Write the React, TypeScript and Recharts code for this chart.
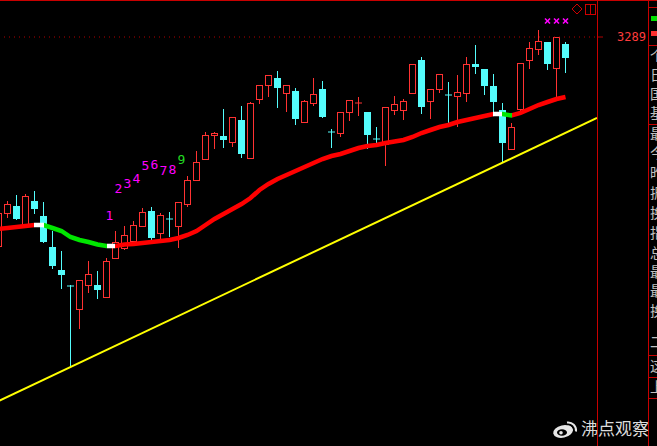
import React from "react";
import { Bar, ComposedChart, Line, ReferenceLine, XAxis, YAxis } from "recharts";

// daily bars, oldest first
const opens = [
  3079, 3112, 3120, 3099, 3125, 3110, 3079, 3056, 3040.5, 3016, 3040, 3041, 3028, 3067, 3077, 3084,
  3099, 3115, 3092, 3107.5, 3099, 3121, 3145, 3166, 3190, 3190, 3183, 3206, 3167, 3226, 3240, 3248,
  3232, 3235, 3203, 3222, 3237, 3194.5, 3192, 3213, 3223, 3214, 3187.5, 3181, 3215, 3215, 3232, 3266,
  3224, 3236, 3231.5, 3229, 3232, 3262, 3257, 3240, 3216, 3176, 3216, 3265, 3276, 3284, 3257, 3282,
];
const highs = [
  3116, 3125, 3131, 3132, 3135, 3124, 3095, 3075, 3041, 3046, 3065, 3055, 3068, 3095, 3100, 3105,
  3118, 3119, 3113, 3114, 3124, 3150, 3175, 3194, 3194, 3217, 3209, 3220, 3224, 3241, 3251, 3255,
  3241, 3238, 3226, 3248, 3245, 3197, 3214, 3226, 3229, 3214, 3199, 3219, 3230, 3227, 3262, 3269,
  3237, 3252, 3244, 3251, 3269, 3281, 3257, 3252, 3223, 3203, 3263, 3284, 3296, 3284, 3289, 3284,
];
const lows = [
  3076, 3108, 3106, 3099, 3112, 3083, 3057, 3037, 2959, 2997, 3033, 3027, 3028, 3067, 3076, 3084,
  3099, 3086, 3084, 3089, 3078, 3119, 3145, 3166, 3177, 3178, 3179, 3168, 3167, 3222, 3229, 3218,
  3214, 3201, 3203, 3220, 3208, 3178, 3189, 3205, 3210, 3177, 3179, 3160, 3211, 3206, 3232, 3212,
  3207, 3233, 3200, 3199, 3224, 3252, 3231, 3214, 3163, 3176, 3211, 3257, 3271, 3256, 3228, 3253,
];
const closes = [
  3113, 3122, 3107, 3130, 3117, 3084, 3060, 3051, 3040, 3046, 3052, 3036, 3065, 3084, 3091, 3101,
  3114, 3088, 3111, 3107, 3124, 3146, 3164, 3191, 3193, 3186, 3209, 3172, 3223, 3241, 3251, 3238,
  3241, 3207, 3225, 3232, 3209, 3194, 3214, 3226, 3223.5, 3191, 3187, 3219, 3222, 3225, 3262, 3219,
  3237, 3252, 3231, 3234, 3262, 3259, 3240, 3224, 3183, 3199, 3263, 3278, 3285, 3262, 3289, 3268,
];
// moving average
const ma = [
  3097, 3098, 3099, 3100, 3101, 3101, 3098, 3095, 3089, 3086, 3084, 3081.5, 3080, 3080, 3081.5, 3082,
  3083, 3084, 3085, 3086, 3088, 3091, 3095, 3101, 3107, 3112, 3117, 3122, 3128, 3136, 3142, 3147,
  3151, 3155, 3159, 3163, 3167, 3170, 3172, 3175, 3178, 3180, 3181, 3183, 3184.5, 3186, 3189, 3193,
  3196, 3199, 3201, 3204, 3206, 3208, 3210, 3212, 3212, 3210.5, 3213, 3217, 3221, 3224, 3227, 3229,
];
// sequential count labels: [bar index, label]
const tdMarks: [number, string][] = [
  [12, "1"], [13, "2"], [14, "3"], [15, "4"], [16, "5"], [17, "6"], [18, "7"], [19, "8"], [20, "9"],
];
const signalBars = [61, 62, 63];
const signalLevel = 3305;
// trend line anchors (bar index, price)
const trendX = [0, 66.5];
const trendY = [2925, 3208];
const priceTicks = [3289];
const panelChars = ["个", "日", "国", "基", "最", "今", "昨", "振", "换", "指", "总", "最", "最", "换", "二", "这", "上"];
const panelTops = [55, 74, 93, 112, 133, 152, 172, 192, 212, 232, 252, 271, 290, 310, 341, 365, 386];

const UP = "#ff3232";
const DOWN = "#54fcfc";

const tdMap = new Map(tdMarks);
const candles = opens.map((open, i) => ({
  i,
  open,
  high: highs[i],
  low: lows[i],
  close: closes[i],
  ma: ma[i],
  td: tdMap.get(i),
  signal: signalBars.includes(i) ? signalLevel : undefined,
}));
const trend = trendX.map((x, k) => ({ x, y: trendY[k] }));

function Candle(props: any) {
  const { x, y, width, height, payload } = props;
  const { open, close, high, low, td, signal } = payload;
  const top = Math.min(y, y + height);
  const k = Math.abs(height) / (high - low || 1);
  const py = (v: number) => top + (high - v) * k;
  const cx = x + width / 2;
  const up = close >= open;
  const color = up ? UP : DOWN;
  const bodyTop = py(Math.max(open, close));
  const bodyBot = py(Math.min(open, close));
  const flat = bodyBot - bodyTop < 1.5;
  let body;
  if (flat) {
    body = (
      <g>
        <line x1={cx} x2={cx} y1={py(high)} y2={py(low)} stroke={color} />
        <line x1={cx - 3.5} x2={cx + 3.5} y1={bodyTop + 0.5} y2={bodyTop + 0.5} stroke={color} />
      </g>
    );
  } else if (up) {
    body = (
      <g>
        <line x1={cx} x2={cx} y1={py(high)} y2={bodyTop} stroke={color} />
        <line x1={cx} x2={cx} y1={bodyBot} y2={py(low)} stroke={color} />
        <rect x={cx - 3} y={bodyTop + 0.5} width={6} height={bodyBot - bodyTop - 1} fill="#000" stroke={color} />
      </g>
    );
  } else {
    body = (
      <g>
        <line x1={cx} x2={cx} y1={py(high)} y2={py(low)} stroke={color} />
        <rect x={cx - 3.5} y={bodyTop} width={7} height={bodyBot - bodyTop} fill={color} />
      </g>
    );
  }
  return (
    <g>
      {body}
      {td && (
        <text
          x={cx - 1}
          y={py(high) - 38}
          fill={td === "9" ? "#22dd22" : "#ff00ff"}
          fontSize={13}
          fontFamily="DejaVu Sans Mono"
        >
          {td}
        </text>
      )}
      {signal !== undefined && (
        <g stroke="#ff00ff" strokeWidth={1.6}>
          <line x1={cx - 2.5} y1={py(signal) - 2.5} x2={cx + 2.5} y2={py(signal) + 2.5} />
          <line x1={cx - 2.5} y1={py(signal) + 2.5} x2={cx + 2.5} y2={py(signal) - 2.5} />
        </g>
      )}
    </g>
  );
}

function maStops() {
  const n = ma.length - 1;
  const stops: React.ReactElement[] = [];
  for (let s = 1; s <= n; s++) {
    const d = ma[s] - ma[s - 1];
    const c = d > 0 ? "#ff0000" : d < 0 ? "#00e600" : "#ffffff";
    stops.push(<stop key={`a${s}`} offset={(s - 1) / n} stopColor={c} />);
    stops.push(<stop key={`b${s}`} offset={s / n} stopColor={c} />);
  }
  return stops;
}

function WeiboLogo() {
  return (
    <g transform="translate(553,420)" fill="#e6e6e6">
      <ellipse cx={10} cy={11.5} rx={10} ry={6.2} transform="rotate(-12 10 11.5)" />
      <ellipse cx={9} cy={12.5} rx={5} ry={3.3} fill="#000" />
      <circle cx={8} cy={12.8} r={1.8} />
      <path d="M14 2.5 a8 8 0 0 1 9 9" stroke="#e6e6e6" strokeWidth={2} fill="none" />
      <path d="M14.5 6.5 a4 4 0 0 1 4.5 4.5" stroke="#e6e6e6" strokeWidth={1.8} fill="none" />
    </g>
  );
}

export default function App() {
  const frame = "#c80000";
  return (
    <div
      style={{
        position: "fixed",
        left: 0,
        top: 0,
        width: 657,
        height: 446,
        background: "#000",
        overflow: "hidden",
      }}
    >
      <div style={{ position: "absolute", left: -6, top: 0 }}>
        <ComposedChart width={603} height={446} data={candles} margin={{ top: 0, right: 0, bottom: 0, left: 0 }}>
          <defs>
            <linearGradient id="maGrad" x1="0" y1="0" x2="1" y2="0">
              {maStops()}
            </linearGradient>
          </defs>
          <XAxis xAxisId="c" dataKey="i" hide padding={{ left: 0, right: 27 }} />
          <XAxis xAxisId="n" dataKey="x" type="number" domain={[-0.5, 66.5]} hide allowDataOverflow />
          <YAxis type="number" domain={[2880, 3326]} hide allowDataOverflow />
          {priceTicks.map((p) => (
            <ReferenceLine key={p} xAxisId="c" y={p} stroke="#b00000" strokeDasharray="1 4" />
          ))}
          <Bar
            xAxisId="c"
            dataKey={(d: any) => [d.low, d.high]}
            barSize={7}
            shape={(p: any) => <Candle {...p} />}
            activeBar={false}
            isAnimationActive={false}
          />
          <Line
            xAxisId="n"
            data={trend}
            dataKey="y"
            stroke="#ffff00"
            strokeWidth={2}
            dot={false}
            activeDot={false}
            isAnimationActive={false}
          />
          <Line
            xAxisId="c"
            dataKey="ma"
            stroke="url(#maGrad)"
            strokeWidth={4.5}
            dot={false}
            activeDot={false}
            isAnimationActive={false}
          />
        </ComposedChart>
      </div>
      <svg width={657} height={446} style={{ position: "absolute", left: 0, top: 0, pointerEvents: "none" }}>
        <line x1={0} x2={657} y1={0.5} y2={0.5} stroke={frame} />
        <line x1={597.5} x2={597.5} y1={0} y2={446} stroke={frame} />
        <line x1={648.5} x2={648.5} y1={0} y2={446} stroke={frame} />
        {[7, 45, 124, 355, 377, 398].map((y) => (
          <line key={y} x1={648} x2={657} y1={y + 0.5} y2={y + 0.5} stroke={frame} />
        ))}
        <rect x={651} y={16} width={6} height={5} fill="#00e000" />
        <rect x={651} y={31} width={6} height={5} fill="#ff3030" />
        <line x1={598} x2={603} y1={37} y2={37} stroke="#b00000" />
        {priceTicks.map((p) => (
          <text key={p} x={617} y={41} fill="#ff3c3c" fontSize={12} fontFamily="DejaVu Sans Mono">
            {p}
          </text>
        ))}
        <polygon points="577,4 582,9 577,14 572,9" fill="none" stroke="#d00000" />
        <rect x={585.5} y={4.5} width={10} height={10} fill="none" stroke="#d00000" />
        <line x1={590.5} x2={590.5} y1={4.5} y2={14.5} stroke="#d00000" />
        {panelChars.map((ch, k) => (
          <text
            key={k}
            x={650}
            y={panelTops[k] + 6}
            fill="#c0c0c0"
            fontSize={14}
            fontFamily="Noto Sans CJK SC"
          >
            {ch}
          </text>
        ))}
        <WeiboLogo />
        <text x={581} y={435} fill="#dcdcdc" fontSize={17} fontFamily="Noto Sans CJK SC">
          沸点观察
        </text>
      </svg>
    </div>
  );
}
